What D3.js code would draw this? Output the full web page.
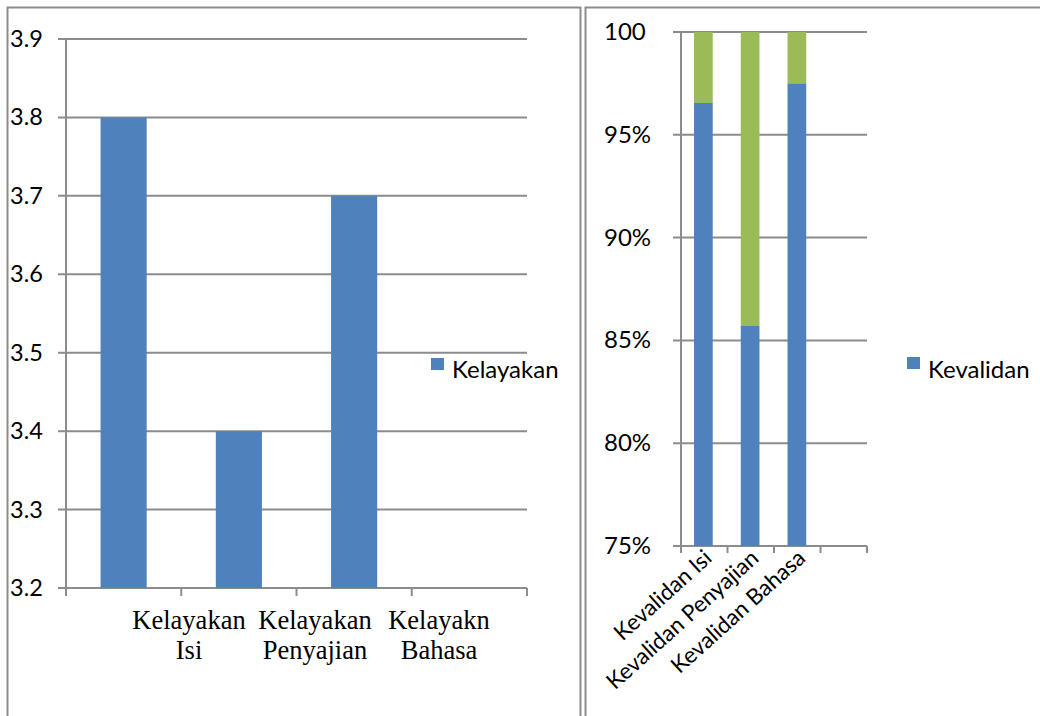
<!DOCTYPE html>
<html>
<head>
<meta charset="utf-8">
<script src="https://cdn.jsdelivr.net/npm/d3@7"></script>
<style>
  body { margin: 0; background: #fff; }
  svg { display: block; }
</style>
</head>
<body>
<div id="chart"></div>
<script>
// left chart data
var kelCategories = ["Kelayakan Isi", "Kelayakan Penyajian", "Kelayakn Bahasa", ""];
var kelValues = [3.8, 3.4, 3.7, null];
var kelTicks = [3.2, 3.3, 3.4, 3.5, 3.6, 3.7, 3.8, 3.9];

// right chart data
var valCategories = ["Kevalidan Isi", "Kevalidan Penyajian", "Kevalidan Bahasa", ""];
var valBlue = [96.55, 85.7, 97.5, null];
var valGreen = [100, 100, 100, null];
var valTicks = [75, 80, 85, 90, 95, 100];
var valTickLabels = ["75%", "80%", "85%", "90%", "95%", "100"];

var blue = "#4f81bd", green = "#9bbb59", grid = "#8c8c8c";
var sans = "Lato, 'Open Sans', sans-serif";

var svg = d3.select("#chart").append("svg")
	.attr("width", 1040).attr("height", 716);

// panel frames
svg.append("rect").attr("x", 7.5).attr("y", 7.5).attr("width", 573).attr("height", 720)
	.attr("fill", "none").attr("stroke", grid).attr("stroke-width", 2);
svg.append("rect").attr("x", 585.5).attr("y", 7.5).attr("width", 470).attr("height", 720)
	.attr("fill", "none").attr("stroke", grid).attr("stroke-width", 2);

// ---------- left chart ----------
var x1 = d3.scaleBand().domain(d3.range(kelCategories.length)).range([66, 527]).paddingInner(0.6).paddingOuter(0.3);
var y1 = d3.scaleLinear().domain([3.2, 3.9]).range([588, 39]);
var g1 = svg.append("g");

g1.selectAll(".grid").data(kelTicks).enter().append("line")
	.attr("x1", 58).attr("x2", 527)
	.attr("y1", function(d) { return y1(d); }).attr("y2", function(d) { return y1(d); })
	.attr("stroke", grid).attr("stroke-width", 2);

g1.selectAll(".bar").data(kelValues.filter(function(d) { return d != null; })).enter().append("rect")
	.attr("x", function(d, i) { return x1(i); })
	.attr("width", x1.bandwidth())
	.attr("y", function(d) { return y1(d); })
	.attr("height", function(d) { return y1(3.2) - y1(d); })
	.attr("fill", blue);

// axes
g1.append("line").attr("x1", 66).attr("x2", 66).attr("y1", 39).attr("y2", 596)
	.attr("stroke", grid).attr("stroke-width", 2);
var step1 = (527 - 66) / kelCategories.length;
g1.selectAll(".xt").data(d3.range(1, kelCategories.length + 1)).enter().append("line")
	.attr("x1", function(d) { return 66 + d * step1; }).attr("x2", function(d) { return 66 + d * step1; })
	.attr("y1", 588).attr("y2", 596).attr("stroke", grid).attr("stroke-width", 2);

g1.selectAll(".yl").data(kelTicks).enter().append("text")
	.attr("x", 10).attr("y", function(d) { return y1(d) + 8; })
	.attr("font-family", sans).attr("font-size", 23.5).attr("fill", "#000")
	.text(function(d) { return d.toFixed(1); });

// category labels (sit right of their bars, as in the original)
var lab = g1.selectAll(".xl").data(kelCategories.filter(function(d) { return d; })).enter().append("text")
	.attr("font-family", "'Liberation Serif', 'Times New Roman', serif").attr("font-size", 26.5)
	.attr("text-anchor", "middle").attr("fill", "#000");
lab.each(function(d, i) {
	var t = d3.select(this);
	var parts = d.split(" ");
	var cx = [189, 315, 439][i];
	parts.forEach(function(p, j) {
		t.append("tspan").attr("x", cx).attr("y", 629 + j * 30).text(p);
	});
});

// legend
g1.append("rect").attr("x", 431).attr("y", 358).attr("width", 13).attr("height", 12).attr("fill", blue);
g1.append("text").attr("x", 452).attr("y", 378).attr("font-family", sans).attr("font-size", 24)
	.attr("fill", "#000").text("Kelayakan");

// ---------- right chart ----------
var x2 = d3.scaleBand().domain(d3.range(valCategories.length)).range([680, 867]).paddingInner(0.6).paddingOuter(0.3);
var y2 = d3.scaleLinear().domain([75, 100]).range([546, 32]);
var g2 = svg.append("g");

g2.selectAll(".grid").data(valTicks).enter().append("line")
	.attr("x1", 673).attr("x2", 867)
	.attr("y1", function(d) { return y2(d); }).attr("y2", function(d) { return y2(d); })
	.attr("stroke", grid).attr("stroke-width", 2);

valGreen.forEach(function(v, i) {
	if (v == null) return;
	g2.append("rect").attr("x", x2(i)).attr("width", x2.bandwidth())
		.attr("y", y2(v)).attr("height", y2(valBlue[i]) - y2(v)).attr("fill", green);
	g2.append("rect").attr("x", x2(i)).attr("width", x2.bandwidth())
		.attr("y", y2(valBlue[i])).attr("height", y2(75) - y2(valBlue[i])).attr("fill", blue);
});

g2.append("line").attr("x1", 681).attr("x2", 681).attr("y1", 32).attr("y2", 553)
	.attr("stroke", grid).attr("stroke-width", 2);
var step2 = (867 - 681) / valCategories.length;
g2.selectAll(".xt").data(d3.range(1, valCategories.length + 1)).enter().append("line")
	.attr("x1", function(d) { return 681 + d * step2; }).attr("x2", function(d) { return 681 + d * step2; })
	.attr("y1", 546).attr("y2", 553).attr("stroke", grid).attr("stroke-width", 2);

g2.selectAll(".yl").data(valTicks).enter().append("text")
	.attr("x", 604).attr("y", function(d) { return y2(d) + 8; })
	.attr("font-family", sans).attr("font-size", 24).attr("fill", "#000")
	.text(function(d, i) { return valTickLabels[i]; });

g2.selectAll(".xl").data(valCategories.filter(function(d) { return d; })).enter().append("text")
	.attr("transform", function(d, i) {
		return "translate(" + (x2(i) + x2.bandwidth() / 2 + 10) + ",560) rotate(-42)";
	})
	.attr("text-anchor", "end").attr("font-family", sans).attr("font-size", 22.5).attr("fill", "#000")
	.text(function(d) { return d; });

g2.append("rect").attr("x", 907).attr("y", 357).attr("width", 13).attr("height", 12).attr("fill", blue);
g2.append("text").attr("x", 928).attr("y", 378).attr("font-family", sans).attr("font-size", 24)
	.attr("fill", "#000").text("Kevalidan");
</script>
</body>
</html>
